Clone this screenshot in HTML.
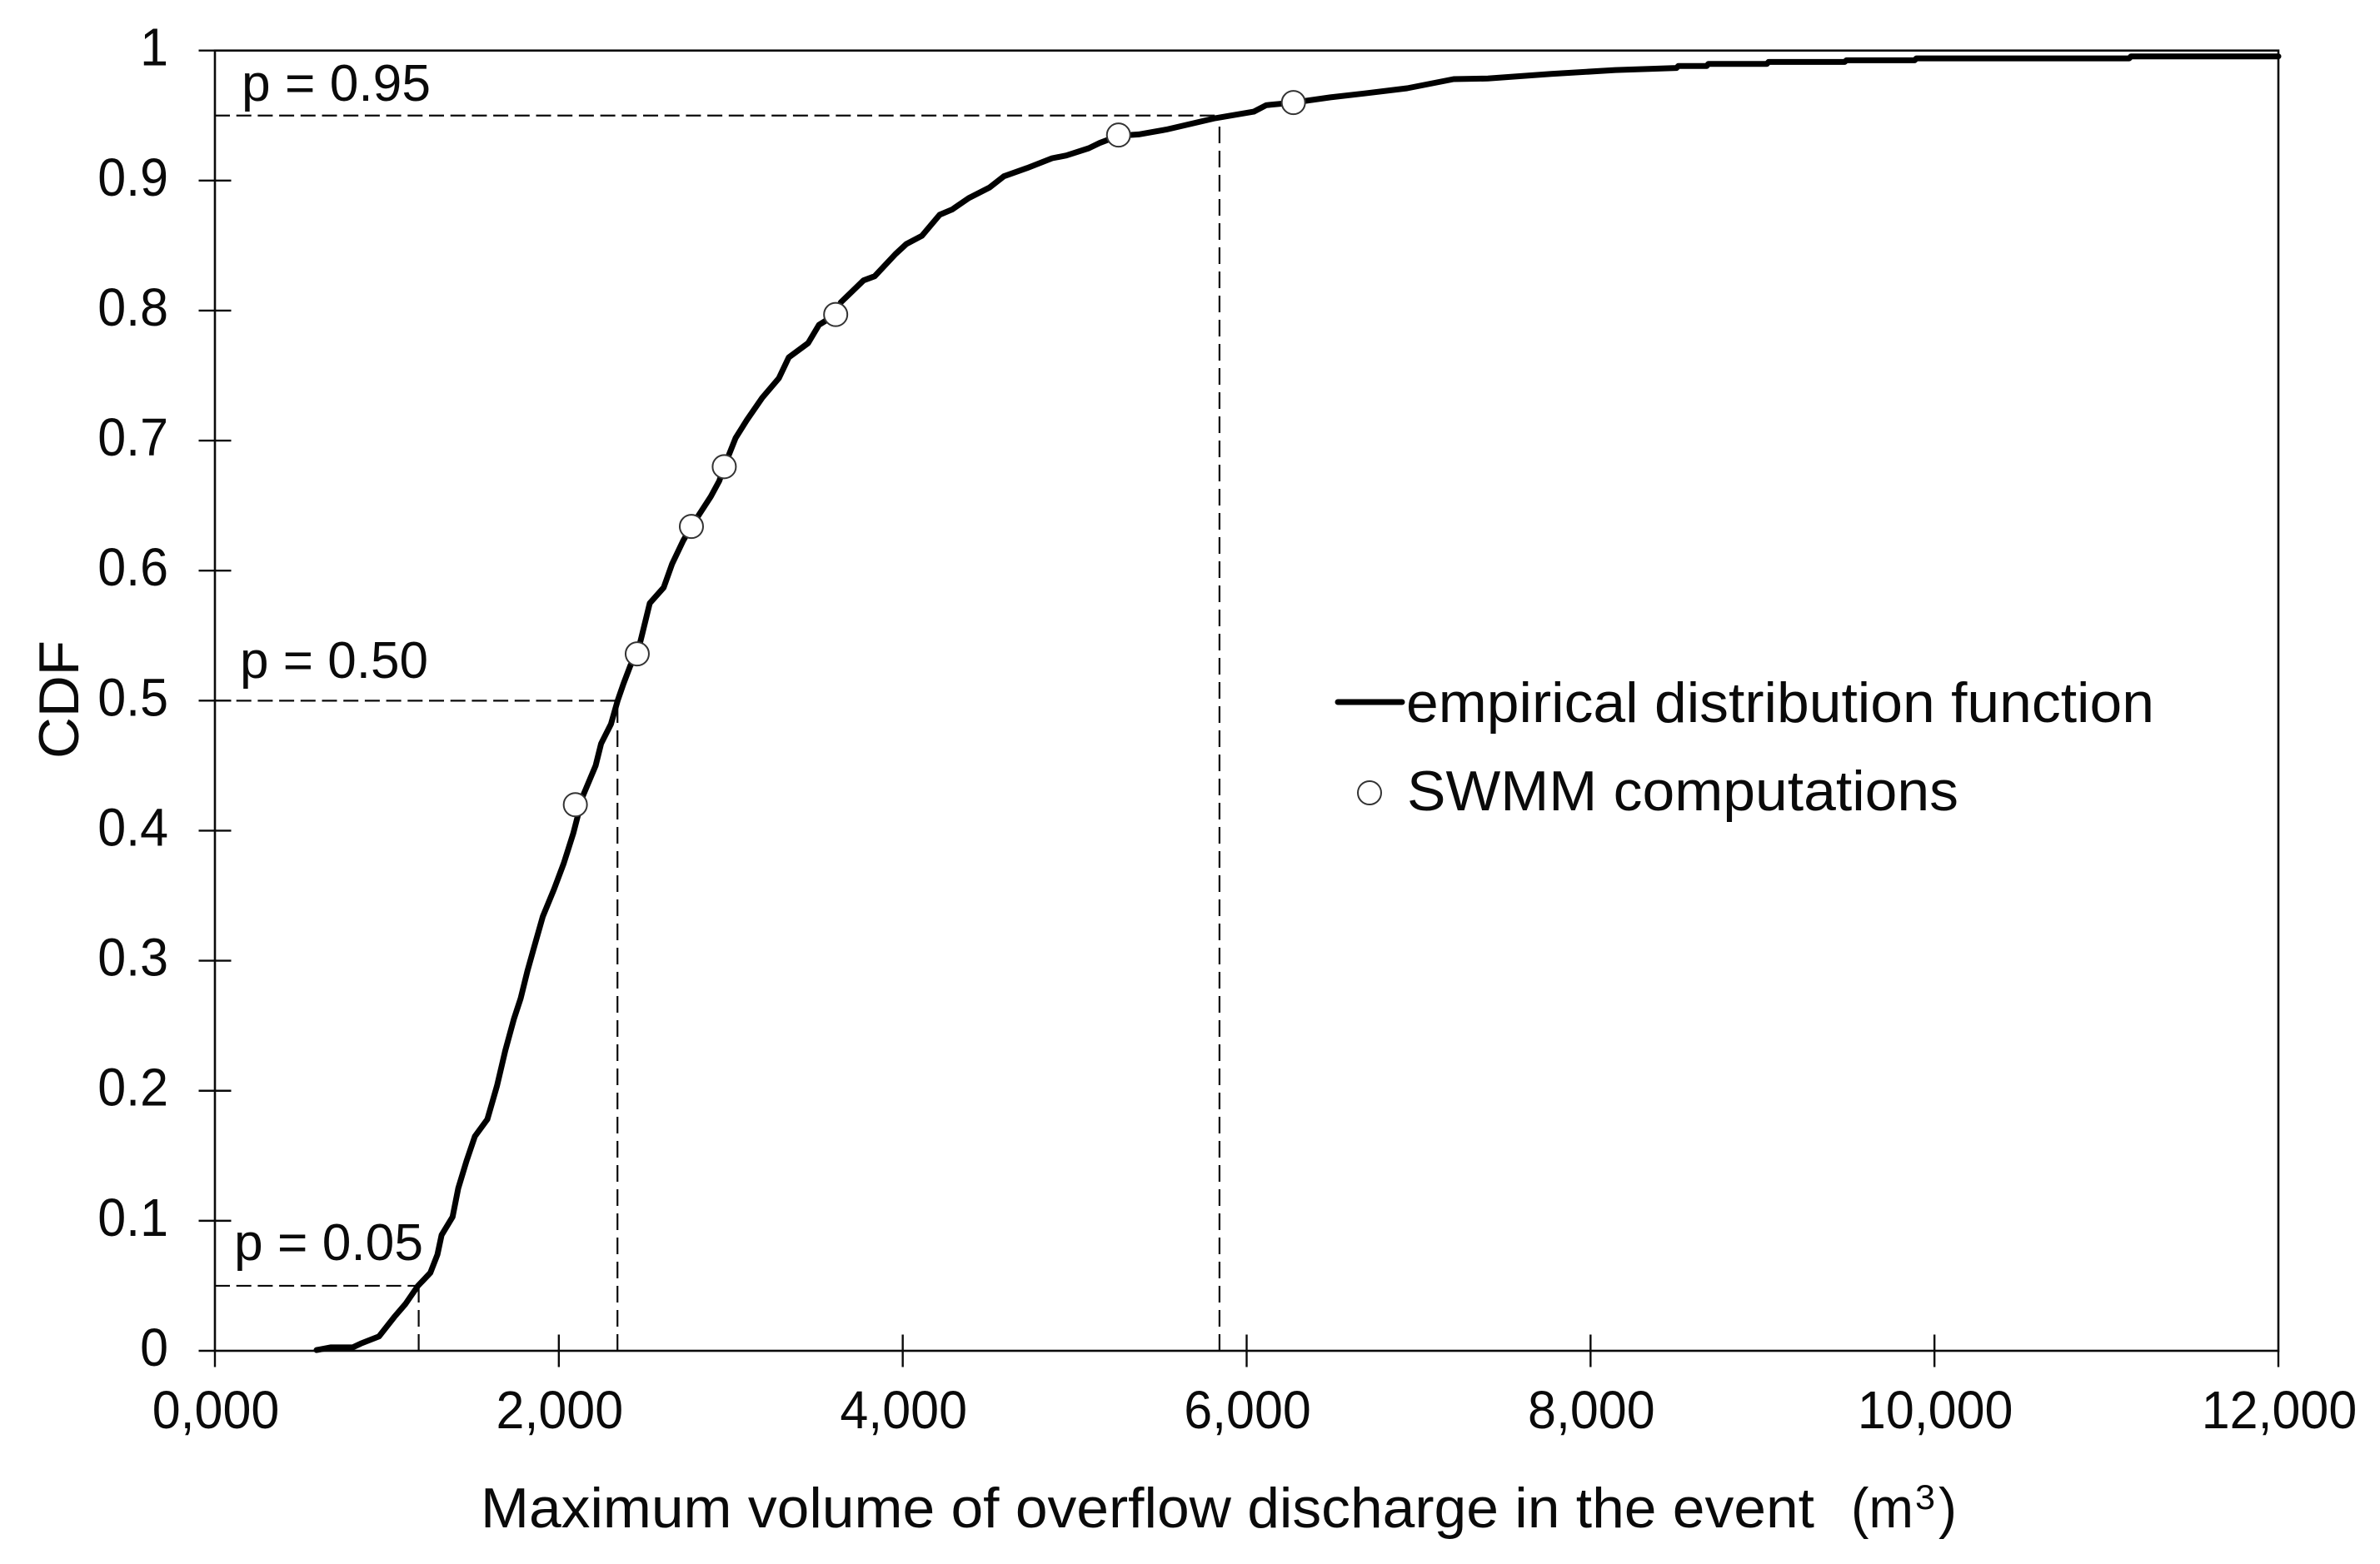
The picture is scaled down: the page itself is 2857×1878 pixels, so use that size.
<!DOCTYPE html>
<html lang="en">
<head>
<meta charset="utf-8">
<title>CDF of maximum overflow discharge volume</title>
<style>
html,body{margin:0;padding:0;background:#fff;width:2857px;height:1878px;overflow:hidden}
svg{display:block}
text{font-family:"Liberation Sans",Arial,sans-serif;fill:#0a0a0a}
</style>
</head>
<body>
<svg id="chart" xmlns="http://www.w3.org/2000/svg" width="2857" height="1878" viewBox="0 0 2857 1878">
  <rect x="0" y="0" width="2857" height="1878" fill="#fff"/>
  <g id="ref-layer"></g>
  <g id="axis-layer"></g>
  <g id="series-layer"></g>
  <text x="290" y="121" font-size="62" textLength="227" lengthAdjust="spacingAndGlyphs">p = 0.95</text>
  <text x="288" y="814" font-size="62" textLength="226" lengthAdjust="spacingAndGlyphs">p = 0.50</text>
  <text x="281" y="1513" font-size="62" textLength="227" lengthAdjust="spacingAndGlyphs">p = 0.05</text>
  <text transform="translate(94,911) rotate(-90)" font-size="68" textLength="142" lengthAdjust="spacingAndGlyphs">CDF</text>
  <g>
    <text x="577" y="1834" font-size="68" textLength="1601" lengthAdjust="spacingAndGlyphs">Maximum volume of overflow discharge in the event</text>
    <text x="2222" y="1834" font-size="68" textLength="75" lengthAdjust="spacingAndGlyphs">(m</text>
    <text x="2299" y="1812" font-size="42" textLength="24" lengthAdjust="spacingAndGlyphs">3</text>
    <text x="2327" y="1834" font-size="68" textLength="22" lengthAdjust="spacingAndGlyphs">)</text>
  </g>
  <g>
    <g>
      <line x1="1606" y1="843" x2="1683" y2="843" stroke="#000" stroke-width="7" stroke-linecap="round"/>
      <text x="1688" y="867" font-size="68" textLength="898" lengthAdjust="spacingAndGlyphs">empirical distribution function</text>
    </g>
    <g>
      <circle cx="1644" cy="952" r="14" fill="#fff" stroke="#333" stroke-width="2"/>
      <text x="1689" y="973" font-size="68" textLength="662" lengthAdjust="spacingAndGlyphs">SWMM computations</text>
    </g>
  </g>
</svg>
<script>
const xTickValues = [0, 2000, 4000, 6000, 8000, 10000, 12000];
const xTickLabels = ["0,000", "2,000", "4,000", "6,000", "8,000", "10,000", "12,000"];
const yTickValues = [0, 0.1, 0.2, 0.3, 0.4, 0.5, 0.6, 0.7, 0.8, 0.9, 1];
const yTickLabels = ["0", "0.1", "0.2", "0.3", "0.4", "0.5", "0.6", "0.7", "0.8", "0.9", "1"];

const cdfVolumes = [591, 672, 801, 849, 954, 1043, 1108, 1181, 1253, 1294, 1318, 1382, 1415, 1463, 1512, 1584, 1641, 1689, 1738, 1778, 1817, 1851, 1907, 1972, 2029, 2084, 2141, 2214, 2246, 2303, 2342, 2376, 2416, 2456, 2481, 2529, 2610, 2658, 2723, 2771, 2884, 2933, 2962, 3028, 3094, 3183, 3280, 3337, 3450, 3513, 3610, 3640, 3772, 3837, 3958, 4021, 4111, 4215, 4287, 4384, 4505, 4588, 4724, 4869, 4951, 5082, 5145, 5256, 5372, 5532, 5818, 6041, 6114, 6272, 6487, 6686, 6933, 7204, 7403, 7771, 8144, 8500, 8510, 8675, 8685, 9025, 9035, 9478, 9488, 9885, 9895, 11133, 11143, 12000];
const cdfProbabilities = [0.0006, 0.0026, 0.0026, 0.0056, 0.011, 0.026, 0.036, 0.05, 0.06, 0.074, 0.089, 0.103, 0.125, 0.146, 0.165, 0.178, 0.204, 0.231, 0.255, 0.271, 0.292, 0.308, 0.334, 0.355, 0.375, 0.398, 0.427, 0.45, 0.467, 0.482, 0.5, 0.513, 0.527, 0.536, 0.549, 0.575, 0.587, 0.605, 0.623, 0.634, 0.657, 0.669, 0.68, 0.702, 0.716, 0.733, 0.748, 0.764, 0.775, 0.789, 0.797, 0.8064, 0.8232, 0.8264, 0.8435, 0.8512, 0.8575, 0.8737, 0.8777, 0.8865, 0.8947, 0.9033, 0.9097, 0.9172, 0.9193, 0.9249, 0.9289, 0.9345, 0.9355, 0.9392, 0.948, 0.953, 0.958, 0.96, 0.964, 0.967, 0.971, 0.978, 0.9785, 0.982, 0.985, 0.9866, 0.9881, 0.9881, 0.9897, 0.9897, 0.9912, 0.9912, 0.9925, 0.9925, 0.994, 0.994, 0.9955, 0.9955];

const swmmVolumes = [2096, 2456, 2771, 2962, 3610, 5255, 6272];
const swmmProbabilities = [0.42, 0.536, 0.634, 0.68, 0.797, 0.935, 0.96];

const refProbabilities = [0.05, 0.5, 0.95];
const refVolumes = [1185, 2341, 5842];

const SVGNS = "http://www.w3.org/2000/svg";
const plotLeft = 258, plotRight = 2735, plotTop = 60.7, plotBottom = 1622;
const xMax = 12000, yMax = 1, tickHalf = 19.5;

function xScale(v) { return plotLeft + (v / xMax) * (plotRight - plotLeft); }
function yScale(p) { return plotBottom - (p / yMax) * (plotBottom - plotTop); }

function makeLine(x1, y1, x2, y2, width, dash) {
  const l = document.createElementNS(SVGNS, "line");
  l.setAttribute("x1", x1);
  l.setAttribute("y1", y1);
  l.setAttribute("x2", x2);
  l.setAttribute("y2", y2);
  l.setAttribute("stroke", "#0a0a0a");
  l.setAttribute("stroke-width", width);
  if (dash) l.setAttribute("stroke-dasharray", dash);
  return l;
}
function makeTickText(str, x, y, anchor) {
  const t = document.createElementNS(SVGNS, "text");
  t.setAttribute("transform", "translate(" + x + "," + y + ") scale(1,1.05)");
  t.setAttribute("font-size", "61");
  t.setAttribute("text-anchor", anchor);
  t.textContent = str;
  return t;
}

const axisLayer = document.getElementById("axis-layer");
const refLayer = document.getElementById("ref-layer");
const seriesLayer = document.getElementById("series-layer");

const frame = document.createElementNS(SVGNS, "rect");


frame.setAttribute("x", plotLeft);
frame.setAttribute("y", plotTop);
frame.setAttribute("width", plotRight - plotLeft);
frame.setAttribute("height", plotBottom - plotTop);
frame.setAttribute("fill", "none");
frame.setAttribute("stroke", "#0a0a0a");
frame.setAttribute("stroke-width", "2.6");
axisLayer.appendChild(frame);

xTickValues.forEach(function (v, i) {
  const px = xScale(v);
  const tick = makeLine(px, plotBottom - (i === 0 || i === xTickValues.length - 1 ? 0 : tickHalf), px, plotBottom + tickHalf, 2.4);
  
  
  axisLayer.appendChild(tick);
  const label = makeTickText(xTickLabels[i], px + 1, 1715, "middle");
  
  
  axisLayer.appendChild(label);
});

yTickValues.forEach(function (p, i) {
  const py = yScale(p);
  const tick = makeLine(plotLeft - tickHalf, py, plotLeft + (i === 0 || i === yTickValues.length - 1 ? 0 : tickHalf), py, 2.4);
  
  
  axisLayer.appendChild(tick);
  const label = makeTickText(yTickLabels[i], 202, py + 18, "end");
  
  
  axisLayer.appendChild(label);
});

refProbabilities.forEach(function (p, i) {
  const px = xScale(refVolumes[i]);
  const py = yScale(p);
  const h = makeLine(plotLeft, py, px, py, 2.2, "18 7.7");
  
  
  refLayer.appendChild(h);
  const v = makeLine(px, plotBottom, px, py, 2.2, "20 9");
  
  
  refLayer.appendChild(v);
});

const curve = document.createElementNS(SVGNS, "polyline");


curve.setAttribute("points", cdfVolumes.map(function (v, i) {
  return xScale(v).toFixed(1) + "," + yScale(cdfProbabilities[i]).toFixed(1);
}).join(" "));
curve.setAttribute("fill", "none");
curve.setAttribute("stroke", "#000");
curve.setAttribute("stroke-width", "7");
curve.setAttribute("stroke-linejoin", "round");
curve.setAttribute("stroke-linecap", "round");
seriesLayer.appendChild(curve);

swmmVolumes.forEach(function (v, i) {
  const c = document.createElementNS(SVGNS, "circle");
  
  
  c.setAttribute("cx", xScale(v));
  c.setAttribute("cy", yScale(swmmProbabilities[i]));
  c.setAttribute("r", "14");
  c.setAttribute("fill", "#fff");
  c.setAttribute("stroke", "#333");
  c.setAttribute("stroke-width", "2");
  seriesLayer.appendChild(c);
});
</script>
</body>
</html>
